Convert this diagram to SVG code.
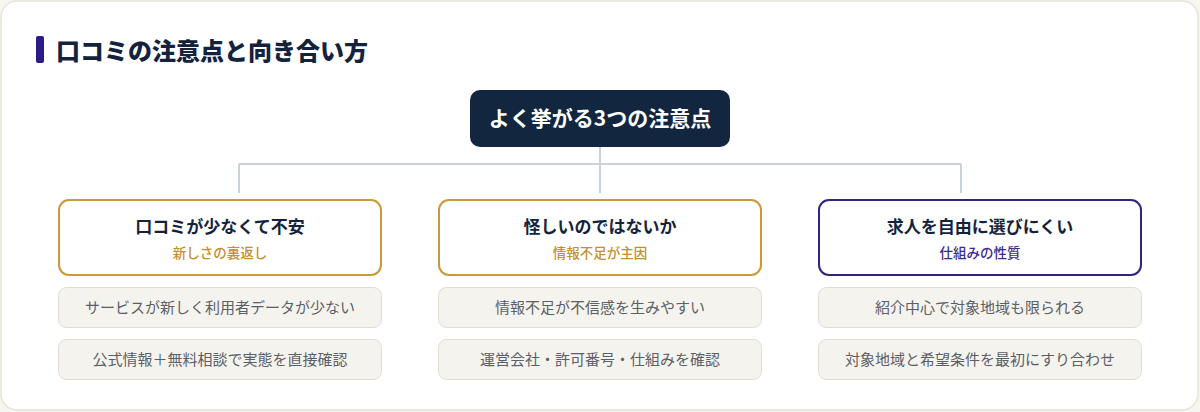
<svg xmlns="http://www.w3.org/2000/svg" width="1200" height="412" viewBox="0 0 1200 412">
  <defs>
    <style>
      .t{font-family:"Noto Sans CJK JP","Noto Sans",sans-serif}
      .title{font-size:24px;font-weight:900;fill:#13233d}
      .root{font-size:21px;font-weight:700;fill:#ffffff}
      .h{font-size:17px;font-weight:700;fill:#13233d}
      .sub{font-size:13.5px;font-weight:500}
      .item{font-size:15px;fill:#5b6068}
      .card{fill:#ffffff;stroke-width:2}
      .gold{stroke:#c9993a}
      .purple{stroke:#33237f}
      .ib{fill:#f5f3ee;stroke:#e2ddd2;stroke-width:1}
      .conn{stroke:#c9d1da;stroke-width:2;fill:none}
    </style>
  </defs>
  <rect x="0" y="0" width="1200" height="412" fill="#f7f5ef"/>
  <rect x="1" y="1" width="1197" height="409" rx="16" fill="#ffffff" stroke="#e8e4d8" stroke-width="1.5"/>
  <g id="title">
    <rect x="36" y="36" width="8" height="27" rx="2" fill="#2e1a87"/>
    <text class="t title" x="56" y="60">口コミの注意点と向き合い方</text>
  </g>
  <g id="connectors">
    <path class="conn" d="M600 147 V193 M239 164 H961 M239 164 V193 M961 164 V193"/>
  </g>
  <g id="root">
    <rect x="470" y="90" width="260" height="57" rx="10" fill="#13263f"/>
    <text class="t root" x="600" y="126" text-anchor="middle">よく挙がる3つの注意点</text>
  </g>
  <g id="node1">
    <rect class="card gold" x="59" y="200" width="322" height="75" rx="10"/>
    <text class="t h" x="220" y="233" text-anchor="middle">口コミが少なくて不安</text>
    <text class="t sub" x="220" y="258" text-anchor="middle" fill="#c48f2f">新しさの裏返し</text>
  </g>
  <g id="node1-item1">
    <rect class="ib" x="58.5" y="287.5" width="323" height="40" rx="8"/>
    <text class="t item" x="220" y="313" text-anchor="middle">サービスが新しく利用者データが少ない</text>
  </g>
  <g id="node1-item2">
    <rect class="ib" x="58.5" y="339.5" width="323" height="40" rx="8"/>
    <text class="t item" x="220" y="365" text-anchor="middle">公式情報＋無料相談で実態を直接確認</text>
  </g>
  <g id="node2">
    <rect class="card gold" x="439" y="200" width="322" height="75" rx="10"/>
    <text class="t h" x="600" y="233" text-anchor="middle">怪しいのではないか</text>
    <text class="t sub" x="600" y="258" text-anchor="middle" fill="#c48f2f">情報不足が主因</text>
  </g>
  <g id="node2-item1">
    <rect class="ib" x="438.5" y="287.5" width="323" height="40" rx="8"/>
    <text class="t item" x="600" y="313" text-anchor="middle">情報不足が不信感を生みやすい</text>
  </g>
  <g id="node2-item2">
    <rect class="ib" x="438.5" y="339.5" width="323" height="40" rx="8"/>
    <text class="t item" x="600" y="365" text-anchor="middle">運営会社・許可番号・仕組みを確認</text>
  </g>
  <g id="node3">
    <rect class="card purple" x="819" y="200" width="322" height="75" rx="10"/>
    <text class="t h" x="980" y="233" text-anchor="middle">求人を自由に選びにくい</text>
    <text class="t sub" x="980" y="258" text-anchor="middle" fill="#3d2a90">仕組みの性質</text>
  </g>
  <g id="node3-item1">
    <rect class="ib" x="818.5" y="287.5" width="323" height="40" rx="8"/>
    <text class="t item" x="980" y="313" text-anchor="middle">紹介中心で対象地域も限られる</text>
  </g>
  <g id="node3-item2">
    <rect class="ib" x="818.5" y="339.5" width="323" height="40" rx="8"/>
    <text class="t item" x="980" y="365" text-anchor="middle">対象地域と希望条件を最初にすり合わせ</text>
  </g>
</svg>
